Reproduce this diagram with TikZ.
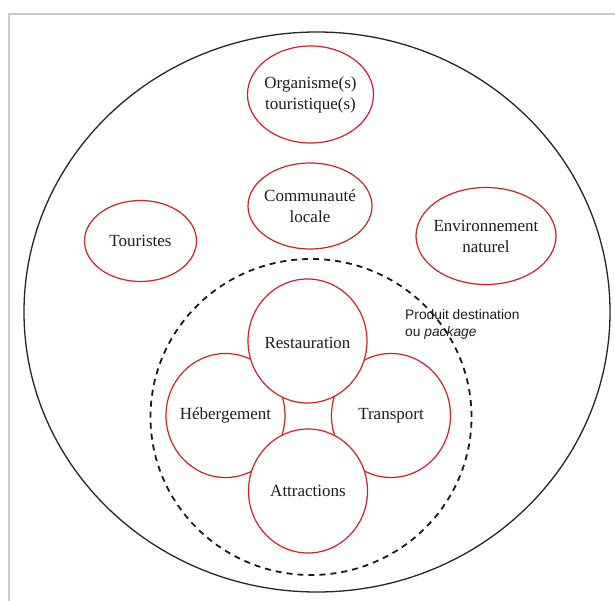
\documentclass[tikz,border=0pt]{standalone}
\usepackage{fontspec}
\setmainfont{Liberation Serif}
\newfontfamily\sansf{Liberation Sans}
\usetikzlibrary{shapes.geometric}
\definecolor{ored}{RGB}{204,35,42}
\definecolor{framegray}{RGB}{205,205,205}
\definecolor{txt}{RGB}{30,30,30}
\begin{document}
\begin{tikzpicture}[x=1pt,y=-1pt,
  oval/.style={draw=ored, line width=1.2pt, fill=white, ellipse, inner sep=0pt},
  lbl/.style={align=center, text=txt, font=\fontsize{17}{21}\selectfont, inner sep=0pt},
  sidelbl/.style={anchor=base west, text=txt, font=\sansf\fontsize{13.8}{17}\selectfont, inner sep=0pt}]
\useasboundingbox (0,0) rectangle (615,601);
\fill[white] (0,0) rectangle (615,601);
\draw[framegray, line width=2pt] (9,601) -- (9,14) -- (615,14);
% outer world
\node[draw=black!85, line width=1.3pt, ellipse, minimum width=586pt, minimum height=560pt, inner sep=0pt] (world) at (317,312) {};
% destination product (dashed)
\node[draw=black!90, line width=1.8pt, dash pattern=on 6pt off 5pt, ellipse, minimum width=321pt, minimum height=316pt, inner sep=0pt] (prod) at (311,417) {};
% stakeholders
\node[oval, minimum width=126pt, minimum height=97pt] (org) at (310.5,94.5) {};
\node[lbl] (torg) at (org) {Organisme(s)\\touristique(s)};
\node[oval, minimum width=124pt, minimum height=86pt] (com) at (310,206) {};
\node[lbl] (tcom) at (com) {Communauté\\locale};
\node[oval, minimum width=112pt, minimum height=81pt] (tou) at (140.5,241) {};
\node[lbl] (ttou) at (tou) {Touristes};
\node[oval, minimum width=140pt, minimum height=97pt] (env) at (486,236) {};
\node[lbl] (tenv) at (env) {Environnement\\naturel};
% product components
\node[oval, minimum width=119pt, minimum height=124pt] (heb) at (225.5,415.5) {};
\node[oval, minimum width=119pt, minimum height=124pt] (tra) at (391,415.5) {};
\node[oval, minimum width=119pt, minimum height=124pt] (res) at (307.5,341) {};
\node[oval, minimum width=119pt, minimum height=124pt] (att) at (308,491) {};
\node[lbl] (tres) at ([yshift=-2pt]res.center) {Restauration};
\node[lbl] (tatt) at (att) {Attractions};
\node[lbl] (theb) at (heb) {Hébergement};
\node[lbl] (ttra) at (tra) {Transport};
% label of product
\node[sidelbl] (plab1) at (405,319) {Produit destination};
\node[sidelbl] (plab2) at (405,336) {ou \textit{package}};
\end{tikzpicture}
\end{document}
